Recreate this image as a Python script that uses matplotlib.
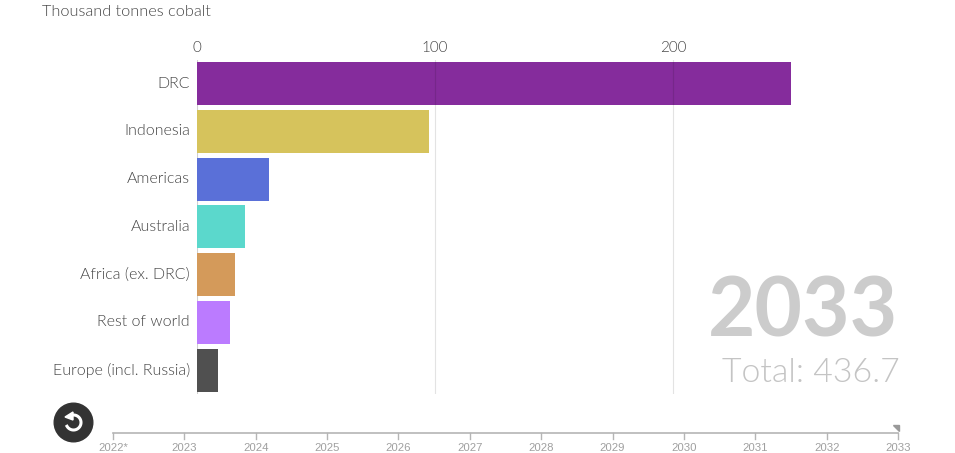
import numpy as np
import matplotlib
matplotlib.use("Agg")
import matplotlib.pyplot as plt
from matplotlib.patches import Circle, Polygon
from matplotlib.transforms import ScaledTranslation

# Data
regions = ["DRC", "Indonesia", "Americas", "Australia", "Africa (ex. DRC)", "Rest of world", "Europe (incl. Russia)"]
values = [249.5, 97.5, 30.2, 20.2, 16.0, 14.0, 8.9]
bar_colors = ["#852c9c", "#d6c35c", "#5a70d8", "#5bd8cc", "#d49a5a", "#bb7bff", "#505050"]
value_ticks = [0, 100, 200]
years = ["2022*", "2023", "2024", "2025", "2026", "2027", "2028", "2029", "2030", "2031", "2032", "2033"]
current_year = "2033"
total_label = "Total: 436.7"

W, H = 955, 453
plt.rcParams["font.family"] = ["Lato", "DejaVu Sans"]
fig = plt.figure(figsize=(W / 100, H / 100), dpi=100)
text_grey = "#444444"
thin = 300  # Lato Light


# helper: axes rectangle from pixel coordinates
def px_axes(left, top, right, bottom):
    return fig.add_axes([left / W, 1 - bottom / H, (right - left) / W, (bottom - top) / H])


# main bars
ax = px_axes(197, 60, 900, 394)
ax.set_xlim(0, (900 - 197) / 2.38)
pitch = 47.8
ax.set_ylim((394 - 83.5) / pitch, (60 - 83.5) / pitch)
y = np.arange(len(regions))
ax.barh(y, values, height=43 / pitch, color=bar_colors, zorder=2)
for t in value_ticks[1:]:
    ax.axvline(t, color="black", alpha=0.11, lw=0.8, zorder=3)
ax.axvline(0, color="#d0d0d0", lw=0.8, zorder=1)
ax.xaxis.tick_top()
ax.set_xticks(value_ticks)
ax.set_yticks(y)
ax.set_yticklabels(regions)
ax.tick_params(axis="x", length=0, pad=3.3, labelsize=11, labelcolor=text_grey)
ax.tick_params(axis="y", length=0, pad=5, labelsize=11.5, labelcolor=text_grey)
up = ScaledTranslation(0, 1.5 / 100, fig.dpi_scale_trans)
for lab in ax.get_yticklabels():
    lab.set_fontweight(thin)
    lab.set_transform(lab.get_transform() + up)
for lab in ax.get_xticklabels():
    lab.set_fontweight(thin)
for s in ax.spines.values():
    s.set_visible(False)

fig.text(42 / W, 1 - 12.5 / H, "Thousand tonnes cobalt", fontsize=11.7, color=text_grey,
         fontweight=thin, va="center", ha="left")

# big year and total
fig.text(898 / W, 1 - 313 / H, current_year, fontsize=59, color="#cccccc", fontweight="bold",
         va="center", ha="right")
fig.text(900 / W, 1 - 373 / H, total_label, fontsize=24.4, color="#c4c4c4", fontweight=thin,
         va="center", ha="right")

# timeline
tl = px_axes(113, 433, 898, 440)
tl.set_xlim(0, len(years) - 1)
tl.set_ylim(1, 0)
tl.patch.set_visible(False)
tl.set_yticks([])
tl.set_xticks(np.arange(len(years)))
tl.set_xticklabels(years, fontsize=8.2, color="#a0a0a0", family="Liberation Sans")
tl.tick_params(axis="x", length=0, pad=2)
for name, s in tl.spines.items():
    s.set_visible(name == "top")
    s.set_color("#b5b5b5")
    s.set_linewidth(1.2)

# overlay in pixel coordinates: timeline ticks, handle, replay button
ov = fig.add_axes([0, 0, 1, 1])
ov.set_xlim(0, W)
ov.set_ylim(H, 0)
ov.axis("off")
ov.patch.set_visible(False)
for i in range(len(years)):
    tx = 113 + i * (898 - 113) / (len(years) - 1)
    ov.plot([tx, tx], [433, 439], color="#b5b5b5", lw=1)
ov.add_patch(Polygon([[893, 425], [899, 425], [899, 431]], color="#999999"))
ov.add_patch(Circle((73.5, 422.5), 19.3, color="#333333"))
theta = np.radians(np.linspace(-90, 150, 60))
ov.plot(73.5 + 7.5 * np.cos(theta), 422.5 + 7.5 * np.sin(theta), color="white", lw=2.2)
ov.add_patch(Polygon([[65, 417], [73, 412], [73, 420]], color="white"))

fig.savefig("out.png", dpi=100)
